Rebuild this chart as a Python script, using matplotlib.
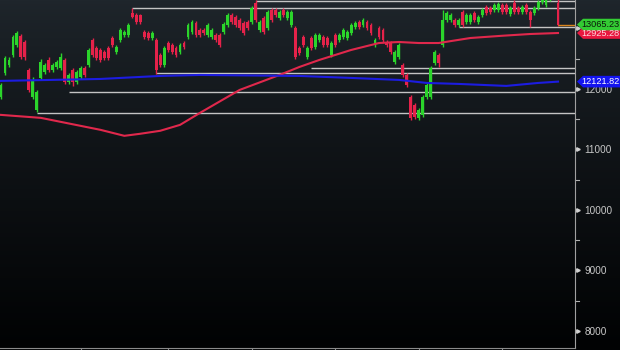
import matplotlib
matplotlib.use("Agg")
import matplotlib.pyplot as plt
import numpy as np
from matplotlib.patches import Polygon
from matplotlib.transforms import blended_transform_factory

plt.rcParams['font.family'] = ['Liberation Sans', 'DejaVu Sans']

# daily candles, oldest first (open, high, low, close)
opens = [11870, 12265, 12397, 12562, 12727, 12876, 12777, 12315, 11869, 11655,
         12183, 12282, 12480, 12315, 12364, 12348, 12480, 12117, 12315, 12117,
         12199, 12348, 12397, 12810, 12678, 12645, 12612, 12678, 12843, 12612,
         12810, 12892, 12892, 13255, 13222, 13222, 12942, 12925, 12843, 12810,
         12562, 12397, 12760, 12727, 12678, 12612, 12760, 12859, 12942, 13090,
         12975, 12975, 12892, 12859, 12892, 12892, 12942, 13057, 13222, 13189,
         13140, 13090, 13107, 13107, 13420, 12975, 13173, 13008, 13305, 13305,
         13173, 13305, 13173, 13057, 13008, 12678, 12859, 12529, 12843, 12694,
         12810, 12859, 12843, 12562, 12892, 12810, 12859, 12843, 12925, 13024,
         13107, 13057, 13107, 13057, 12727, 13008, 12975, 12777, 12760, 12447,
         12529, 12397, 12232, 11869, 11737, 11523, 11572, 11869, 11869, 12430,
         12562, 12727, 13140, 13140, 13140, 13057, 13272, 13107, 13107, 13255,
         13107, 13222, 13354, 13338, 13305, 13305, 13387, 13387, 13239, 13420,
         13338, 13272, 13387, 13272, 13255, 13338, 13437, 13390, 13480, 13590,
         13420]
highs = [12100, 12546, 12530, 12900, 12960, 12910, 12810, 12350, 12200, 11990,
         12500, 12430, 12530, 12430, 12480, 12600, 12510, 12260, 12350, 12310,
         12380, 12380, 12680, 12840, 12710, 12680, 12645, 12710, 12870, 12730,
         13010, 12975, 13090, 13340, 13255, 13240, 12975, 12960, 12960, 12840,
         12600, 12710, 12790, 12760, 12710, 12760, 12790, 13090, 13140, 13120,
         13010, 13010, 13090, 13010, 12925, 12925, 13107, 13255, 13255, 13222,
         13173, 13120, 13140, 13370, 13470, 13140, 13206, 13305, 13338, 13338,
         13305, 13338, 13305, 13305, 13040, 12710, 12892, 12710, 12875, 12925,
         12925, 12892, 12875, 12790, 12925, 12925, 13008, 12975, 13090, 13120,
         13140, 13173, 13140, 13090, 12843, 13040, 13008, 12810, 12790, 12645,
         12760, 12430, 12265, 11902, 11770, 11690, 11902, 12100, 12381, 12645,
         12595, 13305, 13288, 13255, 13173, 13173, 13305, 13255, 13255, 13288,
         13222, 13338, 13387, 13370, 13420, 13437, 13420, 13420, 13370, 13470,
         13370, 13387, 13420, 13305, 13370, 13470, 13600, 13520, 13620, 13640,
         13500]
lows = [11840, 12230, 12360, 12530, 12700, 12500, 12480, 11950, 11840, 11620,
        12150, 12250, 12280, 12280, 12330, 12310, 12080, 12080, 12050, 12080,
        12170, 12200, 12370, 12530, 12480, 12445, 12480, 12480, 12700, 12580,
        12780, 12860, 12860, 13170, 13080, 13070, 12830, 12810, 12810, 12250,
        12360, 12360, 12610, 12580, 12530, 12580, 12660, 12830, 12910, 12860,
        12860, 12890, 12860, 12830, 12780, 12700, 12910, 13024, 13074, 13024,
        12975, 12890, 12975, 13074, 13107, 12942, 12910, 12975, 13107, 13189,
        13140, 13189, 13140, 13024, 12500, 12562, 12690, 12497, 12645, 12660,
        12780, 12694, 12694, 12530, 12694, 12780, 12826, 12810, 12892, 12990,
        12990, 13024, 12975, 12892, 12694, 12826, 12777, 12694, 12580, 12414,
        12497, 12199, 12034, 11490, 11506, 11490, 11540, 11836, 11836, 12397,
        12370, 12694, 13107, 13107, 13024, 13024, 13024, 13074, 13074, 13107,
        13074, 13189, 13222, 13239, 13272, 13272, 13239, 13239, 13206, 13239,
        13239, 13239, 13239, 13024, 13222, 13305, 13400, 13360, 13450, 13500,
        13040]
closes = [12067, 12513, 12480, 12859, 12925, 12529, 12529, 11985, 12150, 11952,
          12447, 12397, 12315, 12397, 12447, 12529, 12117, 12232, 12117, 12282,
          12348, 12232, 12645, 12562, 12513, 12480, 12513, 12513, 12727, 12694,
          12975, 12942, 13057, 13189, 13107, 13107, 12859, 12843, 12925, 12315,
          12397, 12678, 12645, 12612, 12562, 12727, 12694, 13057, 13107, 12892,
          12892, 12925, 13057, 12975, 12810, 12727, 13074, 13222, 13107, 13057,
          13008, 12925, 13008, 13338, 13140, 13107, 12942, 13272, 13140, 13222,
          13272, 13222, 13272, 13272, 12529, 12595, 12727, 12678, 12678, 12892,
          12892, 12727, 12727, 12760, 12727, 12892, 12975, 12942, 13057, 13090,
          13024, 13140, 13008, 12925, 12810, 12859, 12810, 12727, 12612, 12612,
          12727, 12232, 12067, 11523, 11539, 11655, 11869, 12067, 12348, 12612,
          12430, 13140, 13255, 13222, 13057, 13140, 13057, 13222, 13222, 13140,
          13189, 13305, 13255, 13272, 13387, 13404, 13272, 13272, 13338, 13272,
          13272, 13354, 13272, 13140, 13338, 13437, 13560, 13480, 13590, 13540,
          13065.23]

# moving averages read at a few candle positions
ma_red_idx = [0, 10, 15, 25, 31, 35, 40, 45, 50, 60, 70, 75, 80, 88, 95, 100,
              105, 110, 118, 126, 133, 140]
ma_red_val = [11572, 11523, 11457, 11325, 11226, 11260, 11309, 11407, 11605,
              11985, 12232, 12364, 12480, 12645, 12760, 12777, 12760, 12760,
              12843, 12880, 12909, 12925.28]
ma_blue_idx = [0, 25, 40, 50, 75, 88, 100, 107, 115, 127, 135, 140]
ma_blue_val = [12134, 12166, 12216, 12232, 12216, 12183, 12150, 12100, 12084,
               12051, 12100, 12121.82]

# support / resistance levels and the candle they start from
level_val = [13454, 13338, 13024, 12348, 12265, 11952, 11605]
level_start = [64, 33, 115, 78, 39, 17, 9]

month_ticks = [20, 42, 63, 84, 105, 126]
major_ticks = [8000, 9000, 10000, 11000, 12000, 13000]
minor_ticks = [8500, 9500, 10500, 11500, 12500, 13500]

n = len(closes)
idx = np.arange(n)
ymin, ymax = 7719, 13471

fig = plt.figure(figsize=(6.2, 3.5), dpi=100)

# background gradient
bg = fig.add_axes([0, 0, 1, 1], zorder=-1)
grad = np.linspace(0, 1, 256)[:, None]
top = np.array([0x1f, 0x26, 0x2c]) / 255
bot = np.array([0x01, 0x02, 0x03]) / 255
img = top[None, None, :] * (1 - grad[:, :, None] ** 0.8) + bot[None, None, :] * grad[:, :, None] ** 0.8
bg.imshow(img, aspect='auto', extent=[0, 1, 0, 1])
bg.axis('off')

ax = fig.add_axes([0, 2 / 350, 575 / 620, 348 / 350])
ax.set_facecolor('none')

step = 557 / (n - 1)
x_left = -1 / step
x_right = (n - 1) + 17 / step
ax.set_xlim(x_left, x_right)
ax.set_ylim(ymin, ymax)

green = '#2bd52b'
red = '#e5224a'
up = np.array(closes) >= np.array(opens)
cols = [green if u else red for u in up]

ax.hlines(level_val, level_start, x_right, colors='#c4c4c4', linewidth=1, zorder=2)

ax.vlines(idx, lows, highs, colors=cols, linewidth=1, zorder=3)
bottoms = np.minimum(opens, closes)
heights = np.abs(np.array(closes) - np.array(opens))
heights = np.maximum(heights, 12)
ax.bar(idx, heights, bottom=bottoms, width=0.72, color=cols, linewidth=0, zorder=3)

ax.plot(ma_red_idx, ma_red_val, color='#e0284c', linewidth=1.5, zorder=4)
ax.plot(ma_blue_idx, ma_blue_val, color='#1c1ce0', linewidth=1.5, zorder=4)

# last price line
ax.hlines(closes[-1], n - 1, x_right, colors='#d8841c', linewidth=1, zorder=4)

for s in ['top', 'left']:
    ax.spines[s].set_visible(False)
ax.spines['right'].set_color('#a0a0a0')
ax.spines['bottom'].set_color('#8a8a8a')
ax.set_xticks(month_ticks)
ax.set_xticklabels([])
ax.tick_params(axis='x', colors='#8a8a8a', length=2, direction='out')

ax.yaxis.tick_right()
ax.set_yticks(major_ticks)
ax.set_yticklabels([str(t) for t in major_ticks])
ax.tick_params(axis='y', length=0, pad=7, labelsize=7.2, labelcolor='#c8c8c8')

tr = blended_transform_factory(ax.transAxes, ax.transData)
px = 1 / 575
py = (ymax - ymin) / 348
ax.plot([1 + 3 * px] * len(major_ticks), major_ticks, linestyle='none', marker='>',
        markersize=2.5, color='#d0d0d0', transform=tr, clip_on=False)
for t in minor_ticks:
    ax.plot([1, 1 + 4 * px], [t, t], color='#b0b0b0', linewidth=0.8,
            transform=tr, clip_on=False)


def price_tag(value, face, txt):
    pts = [(1 + 2 * px, value), (1 + 8 * px, value + 5.8 * py),
           (1 + 46 * px, value + 5.8 * py), (1 + 46 * px, value - 5.8 * py),
           (1 + 8 * px, value - 5.8 * py)]
    ax.add_patch(Polygon(pts, closed=True, transform=tr, clip_on=False,
                         facecolor=face, edgecolor='none', zorder=6))
    ax.text(1 + 25.5 * px, value, f"{value:.2f}", transform=tr, ha='center',
            va='center', color=txt, fontsize=6.6, clip_on=False, zorder=7)


price_tag(ma_red_val[-1], '#e8173f', '#ffd6dc')
price_tag(closes[-1], '#33cc33', '#0b1a0b')
price_tag(ma_blue_val[-1], '#1414f0', '#ffffff')

fig.savefig('out.png', dpi=100)
